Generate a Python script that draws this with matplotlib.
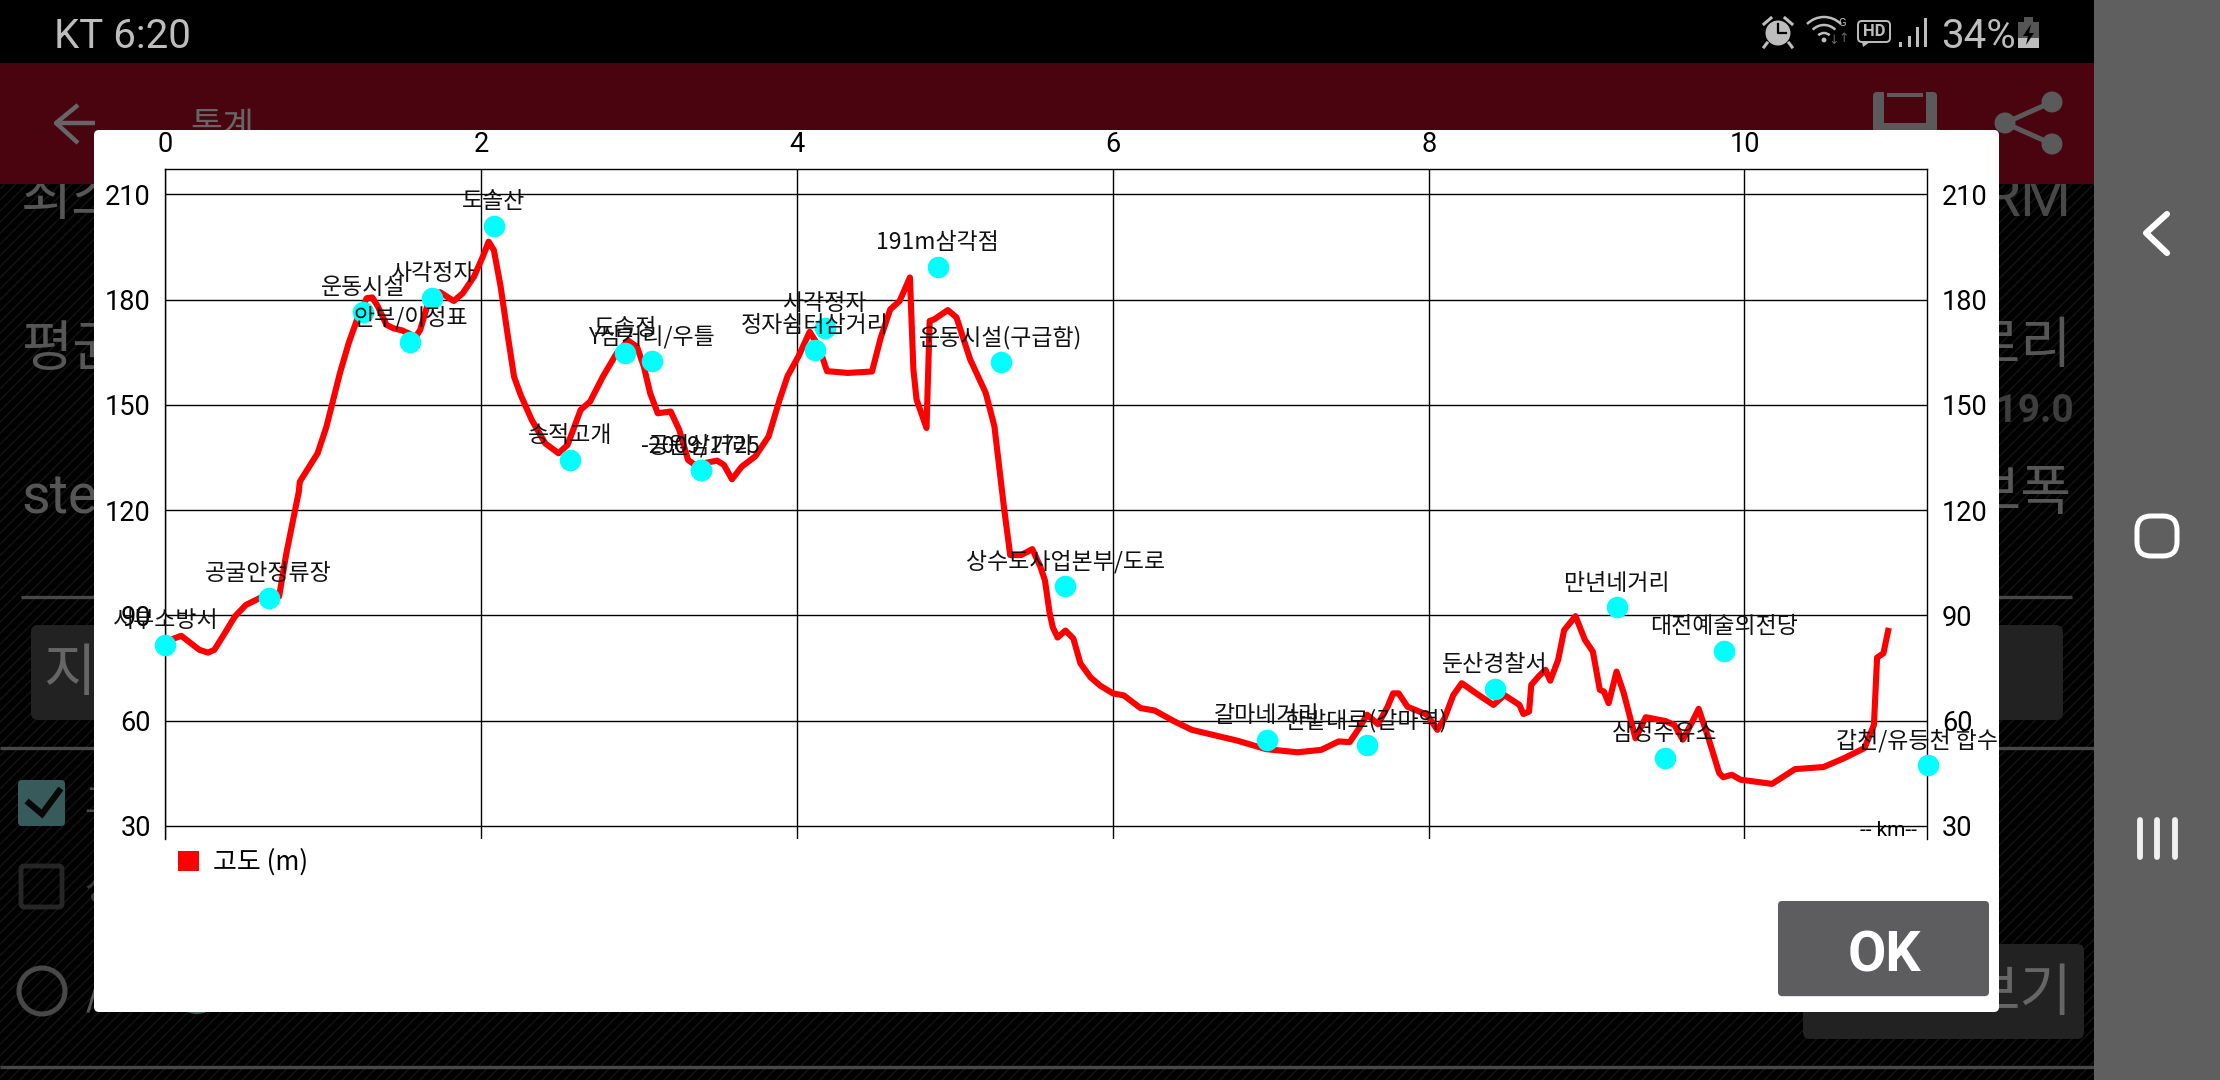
import matplotlib
matplotlib.use("Agg")
import matplotlib.pyplot as plt
from matplotlib.patches import Rectangle, FancyBboxPatch, Circle, Arc, Polygon, Patch

plt.rcParams['font.family'] = ['Noto Sans CJK KR', 'DejaVu Sans']
plt.rcParams['hatch.linewidth'] = 1.1

# ---- data ----
km = [0.03, 0.06, 0.10, 0.16, 0.215, 0.27, 0.31, 0.37, 0.44, 0.51, 0.61, 0.72, 0.766, 0.817, 0.845,
      0.851, 0.964, 1.02, 1.105, 1.16, 1.22, 1.275, 1.31, 1.346, 1.40, 1.445, 1.50, 1.586, 1.614, 1.657,
      1.74, 1.784, 1.826, 1.883, 1.954, 2.01, 2.047, 2.08, 2.123, 2.166, 2.208, 2.25, 2.32, 2.406, 2.49,
      2.547, 2.63, 2.689, 2.77, 2.858, 2.93, 2.986, 3.03, 3.07, 3.118, 3.2, 3.254, 3.31, 3.353, 3.494,
      3.537, 3.588, 3.65, 3.735, 3.82, 3.89, 3.94, 4.01, 4.08, 4.136, 4.19, 4.32, 4.475, 4.53, 4.59,
      4.65, 4.715, 4.737, 4.757, 4.82, 4.84, 4.87, 4.955, 5.01, 5.096, 5.195, 5.25, 5.28, 5.31, 5.35,
      5.42, 5.49, 5.54, 5.57, 5.60, 5.62, 5.65, 5.70, 5.75, 5.795, 5.86, 5.92, 6.0, 6.07, 6.175, 6.265,
      6.39, 6.5, 6.65, 6.79, 6.97, 7.17, 7.32, 7.43, 7.5, 7.56, 7.61, 7.68, 7.74, 7.775, 7.81, 7.866,
      7.99, 8.055, 8.10, 8.156, 8.21, 8.285, 8.41, 8.48, 8.575, 8.6, 8.636, 8.65, 8.70, 8.74, 8.77,
      8.82, 8.858, 8.93, 8.99, 9.04, 9.084, 9.11, 9.14, 9.19, 9.236, 9.31, 9.375, 9.5, 9.556, 9.61,
      9.665, 9.71, 9.775, 9.84, 9.865, 9.92, 9.975, 10.175, 10.32, 10.5, 10.63, 10.76, 10.82, 10.84,
      10.88, 10.91]
elevation = [83, 83.5, 84.2, 82.1, 80.2, 79.4, 80.2, 84.5, 89.7, 93.0, 95.2, 95.4, 107.7, 119.1, 125.3,
             128.1, 136.2, 143.8, 159, 167.5, 175.1, 180.4, 180.6, 178, 172.8, 171.8, 171.2, 169.4, 171.4, 178,
             182.1, 180.8, 179.6, 181.8, 186.5, 192.2, 196.5, 194.1, 183.7, 170.4, 158, 152.8, 145.7, 139, 136.2,
             138.6, 148.6, 150.9, 158, 164.7, 168.3, 166.6, 160.9, 153.3, 147.6, 148.1, 142.9, 134.3, 132.9, 134.1,
             132.9, 128.8, 132.4, 135.3, 141, 151.5, 158.2, 163.9, 170.8, 166.8, 159.6, 159.1, 159.5, 169.1, 177.2,
             179.6, 186.3, 160.1, 151.5, 143.4, 173.9, 174.4, 177, 174.9, 163, 153.4, 143.9, 132.5, 121, 107.2,
             107.2, 108.9, 104, 100, 90.6, 86.6, 83.7, 85.7, 83.4, 76.3, 72.3, 70, 67.8, 67.2, 63.6, 62.9,
             59.8, 57.4, 55.8, 54.3, 51.9, 51, 51.7, 54.1, 53.9, 57.9, 61.7, 59, 64, 67.8, 67.8, 64,
             61.7, 57.4, 60.6, 67.3, 70.7, 68.3, 64.5, 67.3, 64.5, 61.9, 62.6, 70.2, 72.8, 74.5, 71.4,
             77.3, 85.8, 89.8, 83, 79.7, 68.8, 68.3, 65, 74, 67.8, 55, 61, 59.9, 58.8, 54.6,
             59.3, 63.4, 54.6, 45.1, 43.9, 44.6, 43.2, 42, 46.2, 46.8, 49.3, 52.2, 58.8, 78,
             79.2, 85.6]

wp_names = ["서부소방서", "공굴안정류장", "운동시설", "안부/이정표", "사각정자", "도솔산", "송적고개", "도솔정",
            "Y삼거리/우틀", "공원삼거리", "-2009/1725", "정자쉼터삼거리", "사각정자", "191m삼각점", "운동시설(구급함)",
            "상수도사업본부/도로", "갈마네거리", "한밭대로(갈마역)", "둔산경찰서", "만년네거리", "대전예술의전당",
            "삼정주유소", "갑천/유등천 합수부"]
wp_km = [0, 0.653, 1.2525, 1.552, 1.69, 2.078, 2.564, 2.912, 3.079, 3.39, 3.39, 4.113, 4.175, 4.89, 5.29,
         5.70, 6.975, 7.607, 8.42, 9.19, 9.87, 9.495, 11.16]
wp_elev = [81.5, 94.9, 176.4, 168, 180.5, 201, 134.4, 164.7, 162.4, 131.3, 131.3, 165.7, 172, 189.4, 162.3,
           98.4, 54.5, 53, 69, 92.3, 80, 49.3, 47.3]

x_ticks = [0, 2, 4, 6, 8, 10]
y_ticks = [30, 60, 90, 120, 150, 180, 210]
series_name = "고도 (m)"
x_name = "-- km--"

W, H = 2220, 1080
fig = plt.figure(figsize=(W / 100, H / 100), dpi=100, facecolor='black')

# ---- phone screen behind the chart, in pixel coordinates ----
ui = fig.add_axes([0, 0, 1, 1], zorder=0)
ui.set_xlim(0, W); ui.set_ylim(H, 0); ui.axis('off')

GREY = '#565656'
ui.add_patch(Rectangle((0, 184), 2094, 896, facecolor='black', edgecolor='#131313', hatch='///', lw=0, zorder=0))
ui.add_patch(Rectangle((0, 0), 2094, 63, facecolor='black', lw=0, zorder=3))
ui.add_patch(Rectangle((0, 63), 2094, 121, facecolor='#4a0410', lw=0, zorder=3))
ui.add_patch(Rectangle((2094, 0), 126, H, facecolor='#5f5f5f', lw=0, zorder=3))

# background page
for s, x, y in [("최소", 21, 199), ("평균", 21, 350)]:
    ui.text(x, y, s, color=GREY, fontsize=40, va='center', ha='left', zorder=1)
ui.text(21, 498, "step", color=GREY, fontsize=40, family='Roboto', va='center', ha='left', zorder=1)
ui.text(2071, 200, "RM", color='#484848', fontsize=42, family='Roboto', va='center', ha='right', zorder=1)
ui.text(2072, 347, "칼로리", color=GREY, fontsize=40, va='center', ha='right', zorder=1)
ui.text(2074, 412, "219.0", color='#3d3d3d', fontsize=28, family='Roboto', weight='bold', va='center', ha='right', zorder=1)
ui.text(2072, 494, "보폭", color=GREY, fontsize=40, va='center', ha='right', zorder=1)
for y, x0, x1 in [(597, 21, 2072), (748, 0, 2094), (1067, 0, 2094)]:
    ui.plot([x0, x1], [y, y], color='#474747', lw=2.4, zorder=1, solid_capstyle='butt')
ui.add_patch(FancyBboxPatch((31, 625), 2032, 95, boxstyle='round,pad=0,rounding_size=7', facecolor='#222222', lw=0, zorder=1))
ui.add_patch(FancyBboxPatch((1803, 944), 281, 95, boxstyle='round,pad=0,rounding_size=7', facecolor='#222222', lw=0, zorder=1))
ui.text(43, 674, "지도", color='#666666', fontsize=41, va='center', ha='left', zorder=2)
ui.text(2072, 994, "보기", color='#666666', fontsize=41, va='center', ha='right', zorder=2)
ui.add_patch(FancyBboxPatch((18, 780), 47, 46, boxstyle='round,pad=0,rounding_size=4', facecolor='#375a5a', lw=0, zorder=1))
ui.plot([29, 42, 59], [803, 814, 791], color='#080808', lw=4.5, zorder=2, solid_joinstyle='miter')
ui.add_patch(FancyBboxPatch((21, 866), 41, 41, boxstyle='round,pad=0,rounding_size=3', facecolor='none', edgecolor='#262626', lw=3.5, zorder=1))
ui.add_patch(Circle((42, 991), 23, facecolor='none', edgecolor='#484848', lw=3.6, zorder=1))
ui.add_patch(Circle((197, 990), 24, facecolor='#375a5a', lw=0, zorder=1))
ui.text(84, 803, "고도", color='#4a4a4a', fontsize=26, va='center', ha='left', zorder=1)
ui.text(84, 890, "상세", color='#3a3a3a', fontsize=26, va='center', ha='left', zorder=1)
ui.text(86, 991, "/", color=GREY, fontsize=32, va='center', ha='left', zorder=1)

# header icons and title
ICON = '#666666'
ui.plot([95, 56, 78], [123, 123, 105], color=ICON, lw=3.2, zorder=4, solid_capstyle='butt')
ui.plot([56, 78], [123, 143], color=ICON, lw=3.2, zorder=4, solid_capstyle='butt')
ui.text(190, 127, "통계", color=ICON, fontsize=25, va='center', ha='left', zorder=4, weight='medium')
ui.add_patch(FancyBboxPatch((1873, 92), 64, 60, boxstyle='round,pad=0,rounding_size=4', facecolor='#5a5a5a', lw=0, zorder=4))
ui.add_patch(Rectangle((1884, 92), 42, 31, facecolor='#4a0410', lw=0, zorder=4))
ui.add_patch(Rectangle((1887, 93), 36, 4, facecolor='#5a5a5a', lw=0, zorder=4))
for c in [(2005, 123), (2052, 102), (2052, 144)]:
    ui.add_patch(Circle(c, 10.5, facecolor='#5a5a5a', lw=0, zorder=4))
    ui.plot([2005, c[0]], [123, c[1]], color='#5a5a5a', lw=3.6, zorder=4)

# status bar
SB = '#bdbdbd'
ui.text(54, 37, "KT 6:20", color=SB, fontsize=29, family='Roboto', va='center', ha='left', zorder=4)
ui.text(1941, 36, "34%", color=SB, fontsize=29, family='Roboto', va='center', ha='left', zorder=4)
ui.add_patch(Circle((1778, 33), 12.5, facecolor=SB, lw=0, zorder=4))
ui.plot([1778, 1778, 1786], [24, 33, 33], color='black', lw=1.6, zorder=5)
ui.plot([1764, 1771], [24, 18], color=SB, lw=2.2, zorder=4)
ui.plot([1785, 1792], [18, 24], color=SB, lw=2.2, zorder=4)
ui.plot([1767, 1764], [43, 47], color=SB, lw=2.2, zorder=4)
ui.plot([1789, 1792], [43, 47], color=SB, lw=2.2, zorder=4)
for r in [24, 16, 8]:
    ui.add_patch(Arc((1824, 41), 2 * r, 2 * r, theta1=225, theta2=315, color=SB, lw=1.8, zorder=4))
ui.add_patch(Circle((1824, 40), 2.4, facecolor=SB, lw=0, zorder=4))
ui.text(1842, 23, "G", color=SB, fontsize=8, family='Roboto', va='center', ha='center', zorder=4)
ui.text(1834, 40, "↓", color='#666666', fontsize=9, family='DejaVu Sans', va='center', ha='center', zorder=4)
ui.text(1844, 38, "↑", color='#666666', fontsize=9, family='DejaVu Sans', va='center', ha='center', zorder=4)
ui.add_patch(FancyBboxPatch((1858, 21), 32, 21, boxstyle='round,pad=0,rounding_size=4', facecolor='none', edgecolor=SB, lw=1.4, zorder=4))
ui.text(1874, 31.5, "HD", color=SB, fontsize=12, family='Roboto', weight='bold', va='center', ha='center', zorder=4)
ui.add_patch(Polygon([(1862, 42), (1870, 42), (1863, 47)], facecolor=SB, lw=0, zorder=4))
for x, top in [(1900, 42), (1909, 36), (1917, 27), (1925, 18)]:
    ui.add_patch(Rectangle((x - 1.5, top), 3.2, 47 - top, facecolor=SB, lw=0, zorder=4))
ui.add_patch(Rectangle((2018, 22), 21, 26, facecolor='#555555', lw=0, zorder=4))
ui.add_patch(Rectangle((2018, 38), 21, 10, facecolor=SB, lw=0, zorder=4))
ui.add_patch(Rectangle((2024, 17), 9, 5, facecolor='#555555', lw=0, zorder=4))
ui.add_patch(Polygon([(2031, 24), (2023, 36), (2028, 36), (2026, 45), (2034, 33), (2029, 33)], facecolor='black', lw=0, zorder=5))

# navigation bar
ui.plot([2167, 2146, 2167], [214, 233, 253], color='white', lw=4.4, zorder=4, solid_capstyle='round')
ui.add_patch(FancyBboxPatch((2137, 516), 40, 40, boxstyle='round,pad=0,rounding_size=14', facecolor='none', edgecolor='white', lw=3.6, zorder=4))
for x in [2140, 2157, 2175]:
    ui.plot([x, x], [820, 857], color='#f0f0f0', lw=4.2, zorder=4, solid_capstyle='round')

# dialog
dialog = FancyBboxPatch((94, 130), 1905, 882, boxstyle='round,pad=0,rounding_size=5', facecolor='white', lw=0, zorder=6)
ui.add_patch(dialog)
ui.add_patch(FancyBboxPatch((1779, 903), 209, 94, boxstyle='round,pad=0,rounding_size=4', facecolor='#e4e4e4', lw=0, zorder=7))
ui.add_patch(FancyBboxPatch((1778, 901), 211, 95, boxstyle='round,pad=0,rounding_size=4', facecolor='#5d5d5f', lw=0, zorder=8))
ui.text(1884, 956, "OK", color='white', fontsize=40, family='Roboto', weight='bold', va='center', ha='center', zorder=9)

# ---- chart ----
L, R, T, B = 165.4, 1927.3, 169.0, 838.7
ax = fig.add_axes([L / W, 1 - B / H, (R - L) / W, (B - T) / H], zorder=5)
ax.patch.set_alpha(0)
ax.set_xlim(0, 11.158)
ax.set_ylim(26.38, 217.2)
for side in ['top', 'left', 'right']:
    ax.spines[side].set_color('black')
    ax.spines[side].set_linewidth(1.0)
ax.spines['bottom'].set_visible(False)

ax.grid(True, color='black', lw=1.0, zorder=1)
ax.set_xticks(x_ticks)
ax.set_yticks(y_ticks)
ax.tick_params(axis='x', length=0, top=True, bottom=False, labeltop=True, labelbottom=False, pad=8, labelsize=19.5)
ax.tick_params(axis='y', length=0, left=True, right=True, labelleft=True, labelright=True, pad=10.5, labelsize=19.5)
for t in ax.get_xticklabels() + ax.get_yticklabels():
    t.set_fontfamily('Roboto')

ax.plot(km, elevation, color='#ff0000', lw=4.4, zorder=3, solid_joinstyle='round', label=series_name)
ax.plot(wp_km, wp_elev, ls='none', marker='o', ms=15.5, mfc='#00ffff', mec='none', zorder=4, clip_on=False)
for name, xv, yv in zip(wp_names, wp_km, wp_elev):
    t = ax.annotate(name, (xv, yv), xytext=(0, 17.5), textcoords='offset points', ha='center', va='center',
                    fontsize=16.5, color='#111111', zorder=5, annotation_clip=False)
    t.set_clip_on(True)
    t.set_clip_path(Rectangle((94, 130), 1905, 882, transform=ui.transData))

ax.text(1888, 830, x_name, transform=ui.transData, ha='center', va='center', fontsize=15, family='Roboto', zorder=5)

leg = ax.legend(handles=[Patch(facecolor='#ff0000', edgecolor='none', label=series_name)],
                loc='center left', bbox_to_anchor=(178 / W, 1 - 862 / H), bbox_transform=fig.transFigure,
                frameon=False, fontsize=18.7, handlelength=0.8, handleheight=0.82, handletextpad=0.55,
                borderpad=0, borderaxespad=0)

fig.savefig('out.png', dpi=100, facecolor='black')
